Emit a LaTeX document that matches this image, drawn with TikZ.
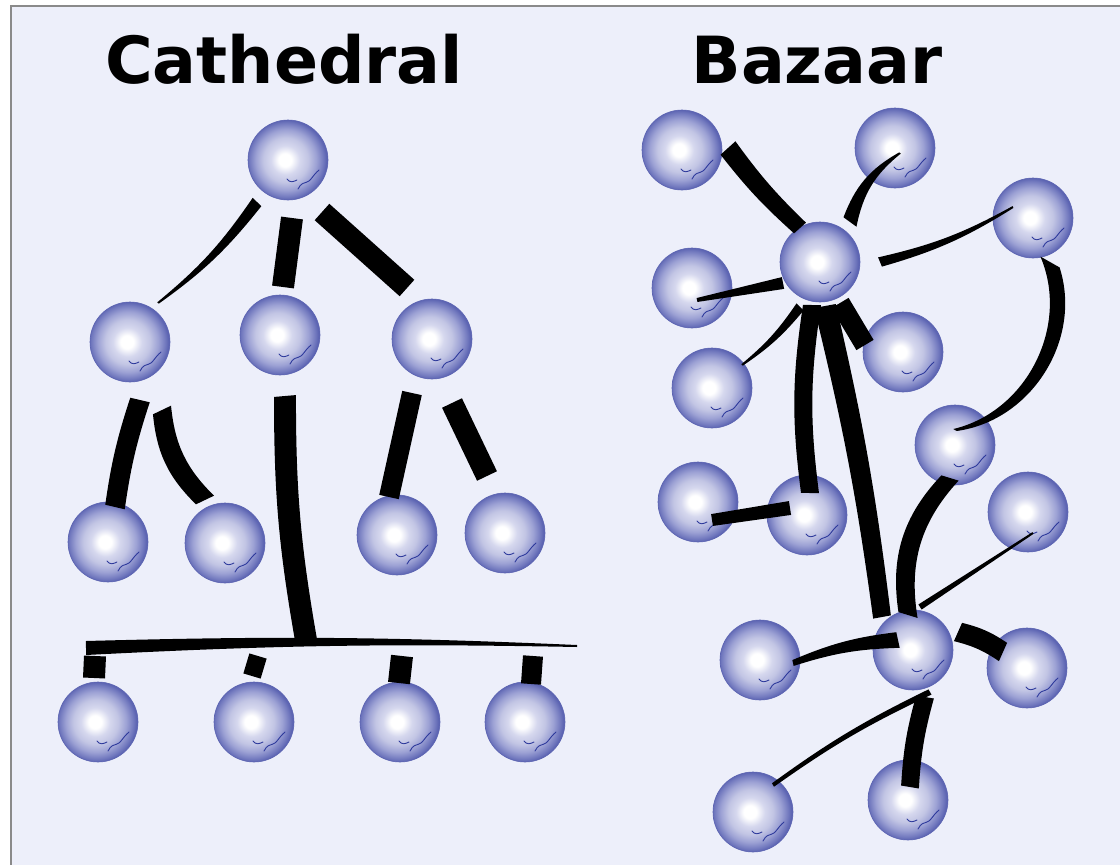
\documentclass[tikz,border=0pt]{standalone}
\usepackage{fontspec}
\usetikzlibrary{calc}
\newfontfamily\headfont{DejaVu Sans}
\definecolor{paper}{HTML}{EDEFFA}
\definecolor{frame}{HTML}{8A8A8A}
\definecolor{orbedge}{HTML}{5C64B2}
\definecolor{orbrim}{HTML}{737ABF}
\definecolor{orbmid}{HTML}{9CA1D4}
\definecolor{orblight}{HTML}{C2C5E4}
\definecolor{orbglow}{HTML}{D6D8EE}
\definecolor{squig}{HTML}{2E3A9C}
\pgfdeclareradialshading{orb}{\pgfpoint{-2bp}{0bp}}{color(0bp)=(white); color(4bp)=(white); color(9bp)=(orbglow); color(14bp)=(orblight); color(19bp)=(orbmid); color(23bp)=(orbrim); color(25bp)=(orbedge); color(50bp)=(orbedge)}
\tikzstyle{ball}=[circle, minimum size=80pt, inner sep=0pt, shade, shading=orb, draw=orbedge, line width=0.6pt]
\tikzset{squiggle/.style={draw=squig, line width=0.9pt, line cap=round},
  title/.style={font={\headfont\bfseries\fontsize{65}{78}\selectfont}, anchor=base, inner sep=0pt}}
% tapered pen stroke: [bend] {from} {to} {half width at from} {half width at to}
\newcommand\link[5][0]{%
  \fill[black] ($#2!#4pt!90:#3$) to[bend left=#1] ($#3!#5pt!-90:#2$)
    -- ($#3!#5pt!90:#2$) to[bend right=#1] ($#2!#4pt!-90:#3$) -- cycle;}

\begin{document}
\begin{tikzpicture}[x=1pt,y=-1pt]
  \useasboundingbox (0,0) rectangle (1120,865);
  \fill[white] (0,0) rectangle (1120,865);
  \fill[paper] (11,6) rectangle (1120,865);
  \draw[frame, line width=2pt] (11,865) -- (11,6) -- (1120,6);

  \node[title] (cathedral) at (284,83) {Cathedral};
  \node[title] (bazaar) at (817,83) {Bazaar};

  % cathedral
  \node[ball] (apex) at (288,160) {};
  \node[ball] (lvlA) at (130,342) {};
  \node[ball] (lvlB) at (280,335) {};
  \node[ball] (lvlC) at (432,339) {};
  \node[ball] (leafA1) at (108,542) {};
  \node[ball] (leafA2) at (225,543) {};
  \node[ball] (leafC1) at (397,535) {};
  \node[ball] (leafC2) at (505,533) {};
  \node[ball] (base1) at (98,722) {};
  \node[ball] (base2) at (254,722) {};
  \node[ball] (base3) at (400,722) {};
  \node[ball] (base4) at (525,722) {};
  \coordinate (barL) at (86,648);
  \coordinate (barR) at (577,646);
  \coordinate (bus) at (306,640);

  % bazaar
  \node[ball] (hubN) at (820,262) {};
  \node[ball] (hubS) at (913,650) {};
  \node[ball] (p1) at (682,150) {};
  \node[ball] (p2) at (895,148) {};
  \node[ball] (p3) at (1033,218) {};
  \node[ball] (p4) at (692,288) {};
  \node[ball] (p5) at (903,352) {};
  \node[ball] (p6) at (712,388) {};
  \node[ball] (p7) at (955,445) {};
  \node[ball] (p8) at (698,502) {};
  \node[ball] (p9) at (807,515) {};
  \node[ball] (p10) at (1028,512) {};
  \node[ball] (p11) at (760,660) {};
  \node[ball] (p12) at (1027,668) {};
  \node[ball] (p13) at (753,812) {};
  \node[ball] (p14) at (908,800) {};

  \foreach \n in {apex,lvlA,lvlB,lvlC,leafA1,leafA2,leafC1,leafC2,base1,base2,base3,base4,
                  hubN,hubS,p1,p2,p3,p4,p5,p6,p7,p8,p9,p10,p11,p12,p13,p14}{
    \begin{scope}[shift={(\n)}]
      \draw[squiggle] (-1,19) .. controls (2,23) and (5,22) .. (9,20);
      \draw[squiggle] (10,29) .. controls (13,23) and (16,23) .. (19,22) .. controls (23,21) and (24,16) .. (31,10);
    \end{scope}
  }

  \link[8]{([shift={(-31,42)}]apex)}{([shift={(28,-39)}]lvlA)}{6}{1}
  \link{([shift={(4,58)}]apex)}{([shift={(3,-48)}]lvlB)}{11}{11}
  \link{([shift={(34,52)}]apex)}{([shift={(-25,-51)}]lvlC)}{11}{11}
  \link[-5]{([shift={(10,58)}]lvlA)}{([shift={(7,-35)}]leafA1)}{10}{10}
  \link[-20]{([shift={(32,68)}]lvlA)}{([shift={(-20,-43)}]leafA2)}{10}{10}
  \link[-5]{([shift={(5,61)}]lvlB)}{(bus)}{11}{11}
  \link{([shift={(-20,54)}]lvlC)}{([shift={(-8,-38)}]leafC1)}{10}{10}
  \link{([shift={(20,64)}]lvlC)}{([shift={(-18,-57)}]leafC2)}{11}{11}
  \link[2]{(barL)}{(barR)}{7}{1}
  \link{([shift={(-3,-66)}]base1)}{([shift={(-4,-44)}]base1)}{11}{11}
  \link{([shift={(4,-66)}]base2)}{([shift={(-2,-46)}]base2)}{9}{9}
  \link{([shift={(2,-66)}]base3)}{([shift={(-1,-39)}]base3)}{11}{11}
  \link{([shift={(8,-66)}]base4)}{([shift={(6,-38)}]base4)}{10}{10}

  \link[-5]{([shift={(46,-2)}]p1)}{([shift={(-20,-34)}]hubN)}{10}{8}
  \link[20]{([shift={(30,-40)}]hubN)}{([shift={(5,5)}]p2)}{8}{1}
  \link[-8]{([shift={(60,0)}]hubN)}{([shift={(-20,-11)}]p3)}{5}{1}
  \link{([shift={(-37,21)}]hubN)}{([shift={(5,12)}]p4)}{6}{2}
  \link[8]{([shift={(-20,45)}]hubN)}{([shift={(30,-23)}]p6)}{5}{1}
  \link[-8]{([shift={(-8,43)}]hubN)}{([shift={(3,-22)}]p9)}{9}{9}
  \link[3]{([shift={(5,44)}]hubN)}{([shift={(-31,-33)}]hubS)}{11}{9}
  \link{([shift={(20,41)}]hubN)}{([shift={(-38,-7)}]p5)}{10}{10}
  \link[50]{([shift={(17,44)}]p3)}{([shift={(0,-15)}]p7)}{11}{2}
  \link{([shift={(-17,-7)}]p9)}{([shift={(14,18)}]p8)}{7}{6}
  \link[-26]{([shift={(-5,33)}]p7)}{([shift={(-5,-35)}]hubS)}{9}{10}
  \link{([shift={(5,21)}]p10)}{([shift={(7,-43)}]hubS)}{1}{3}
  \link[-8]{([shift={(-15,-10)}]hubS)}{([shift={(33,3)}]p11)}{8}{3}
  \link[10]{([shift={(45,-18)}]hubS)}{([shift={(-24,-16)}]p12)}{10}{10}
  \link[-5]{([shift={(17,42)}]hubS)}{([shift={(20,-27)}]p13)}{3}{2}
  \link[-6]{([shift={(12,47)}]hubS)}{([shift={(2,-13)}]p14)}{9}{9}
\end{tikzpicture}
\end{document}
